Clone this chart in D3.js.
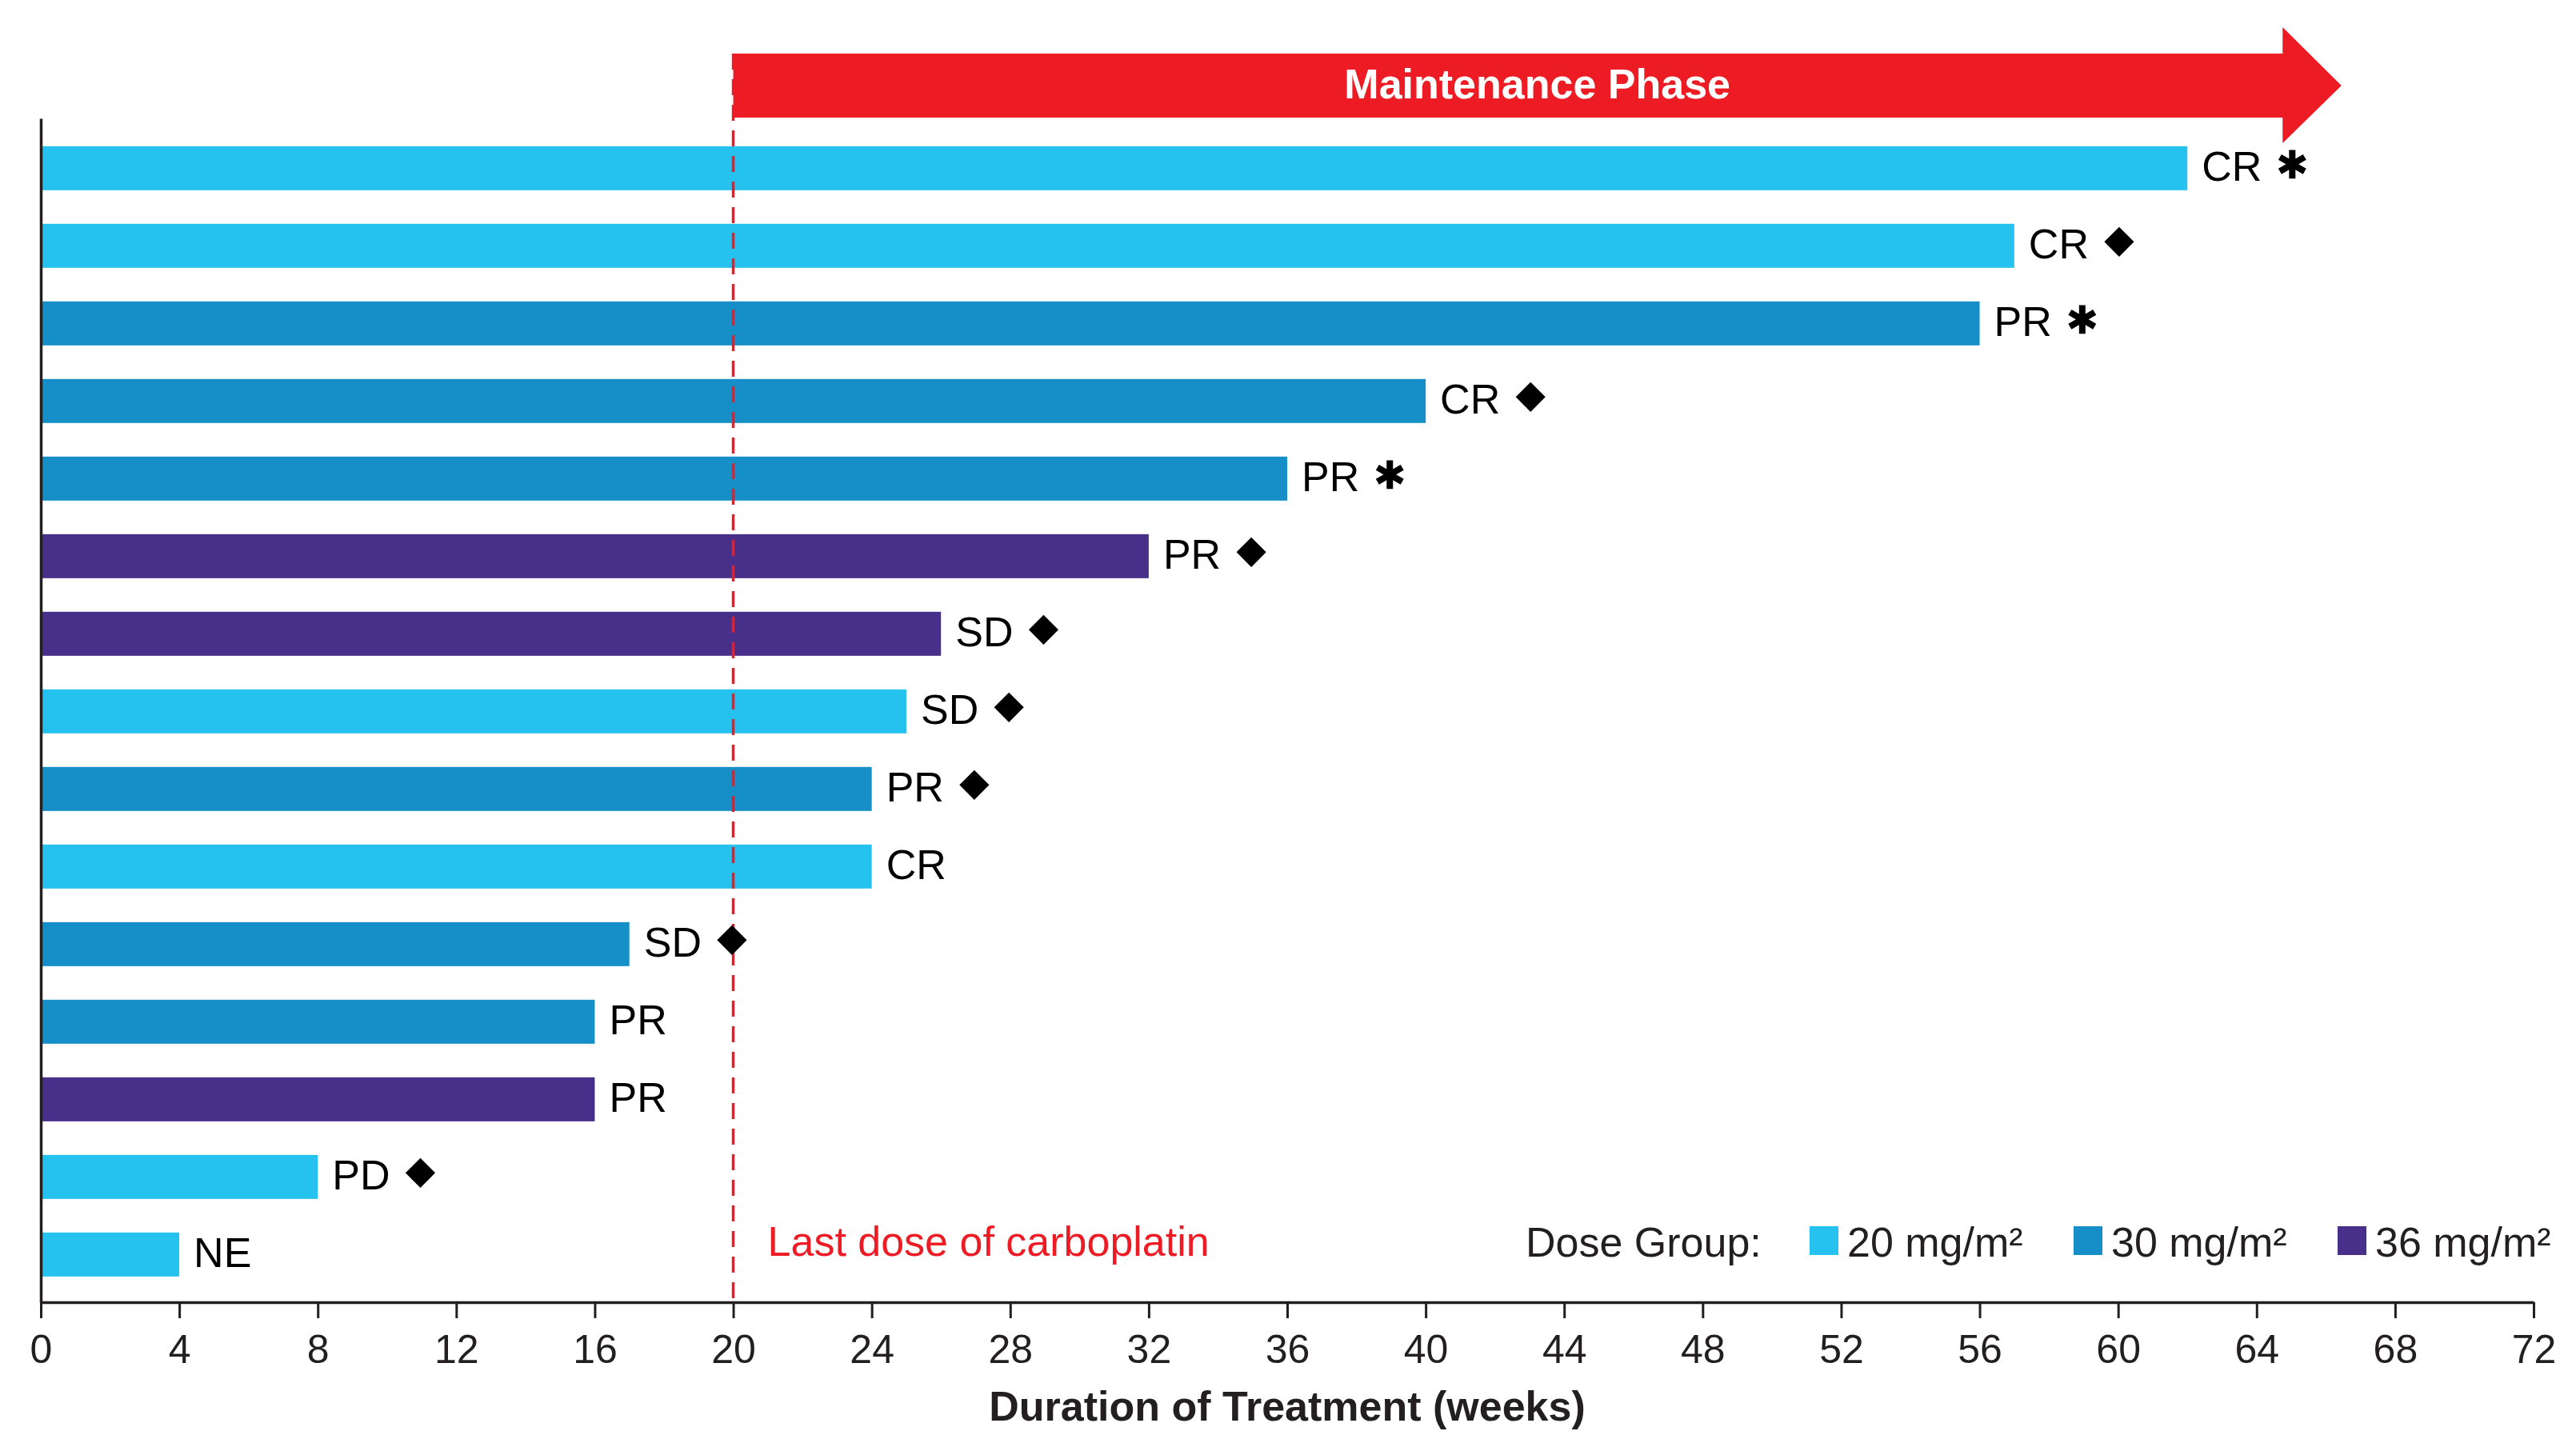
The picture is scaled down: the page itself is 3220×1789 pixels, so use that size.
<!DOCTYPE html>
<html>
<head>
<meta charset="utf-8">
<script src="https://cdn.jsdelivr.net/npm/d3@7"></script>
<style>
  html, body { margin: 0; padding: 0; background: #fff; }
  svg { display: block; font-family: "Liberation Sans", Arial, Helvetica, sans-serif; }
</style>
</head>
<body>
<div id="chart"></div>
<script>
/* ── Duration of treatment swimmer plot ─────────────── */
(function () {
  "use strict";

  // ── Data ──────────────────────────────────────────
  const patients  = ["1","2","3","4","5","6","7","8","9","10","11","12","13","14","15"];
  const weeks     = [62, 57, 56, 40, 36, 32, 26, 25, 24, 24, 17, 16, 16, 8, 4];
  const doses     = ["20","20","30","30","30","36","36","20","30","20","30","30","36","20","20"];
  const responses = ["CR","CR","PR","CR","PR","PR","SD","SD","PR","CR","SD","PR","PR","PD","NE"];
  const markers   = ["asterisk","diamond","asterisk","diamond","asterisk","diamond","diamond",
                     "diamond","diamond","","diamond","","","diamond",""];
  const doseKeys   = ["20", "30", "36"];
  const doseLabels = ["20 mg/m²", "30 mg/m²", "36 mg/m²"];
  const xTicks = [0, 4, 8, 12, 16, 20, 24, 28, 32, 36, 40, 44, 48, 52, 56, 60, 64, 68, 72];

  // Annotations (in weeks)
  const LAST_DOSE_WEEK = 20;
  const ARROW_START = 20, ARROW_HEAD = 64.75, ARROW_TIP = 66.45;

  // ── Config ────────────────────────────────────────
  const W = 3220, H = 1789;
  const X0 = 51, X1 = 3167;
  const Y0 = 148, Y1 = 1628;
  const RED = "#ED1C24";
  const INK = "#231F20";
  const FS = 52;

  const color = d3.scaleOrdinal().domain(doseKeys).range(["#25C2EF", "#168FC8", "#472F8A"]);

  const rows = patients.map((p, i) => ({
    id: p, value: weeks[i], dose: doses[i], resp: responses[i], mark: markers[i]
  }));

  const svg = d3.select("#chart").append("svg")
    .attr("width", W).attr("height", H)
    .attr("viewBox", `0 0 ${W} ${H}`);

  // ── Scales ────────────────────────────────────────
  const x = d3.scaleLinear().domain([0, 72]).range([X0, X1]);
  const y = d3.scaleBand().domain(patients).range([Y0, Y1])
    .paddingInner(0.433).paddingOuter(0.345).align(0.52);

  // ── Maintenance arrow ─────────────────────────────
  const bodyTop = 67, bodyBot = 147, headTop = 34, headBot = 179, tipY = 107;
  svg.append("path")
    .attr("fill", RED)
    .attr("d", d3.line()([
      [x(ARROW_START), bodyTop], [x(ARROW_HEAD), bodyTop], [x(ARROW_HEAD), headTop],
      [x(ARROW_TIP), tipY], [x(ARROW_HEAD), headBot], [x(ARROW_HEAD), bodyBot],
      [x(ARROW_START), bodyBot]
    ]) + "Z");

  svg.append("text")
    .attr("x", (x(ARROW_START) + x(ARROW_TIP)) / 2)
    .attr("y", 123)
    .attr("text-anchor", "middle")
    .attr("fill", "#fff")
    .attr("font-weight", "bold")
    .attr("font-size", FS)
    .text("Maintenance Phase");

  // ── Bars ──────────────────────────────────────────
  svg.append("g").selectAll("rect")
    .data(rows)
    .join("rect")
    .attr("x", x(0))
    .attr("y", d => y(d.id))
    .attr("width", d => x(d.value) - x(0))
    .attr("height", y.bandwidth())
    .attr("fill", d => color(d.dose));

  // ── Last dose line ────────────────────────────────
  svg.append("line")
    .attr("x1", x(LAST_DOSE_WEEK)).attr("x2", x(LAST_DOSE_WEEK))
    .attr("y1", bodyTop).attr("y2", Y1)
    .attr("stroke", RED)
    .attr("stroke-width", 3.5)
    .attr("stroke-dasharray", "20 12");

  svg.append("text")
    .attr("x", x(LAST_DOSE_WEEK) + 43)
    .attr("y", 1570)
    .attr("fill", RED)
    .attr("font-size", FS)
    .text("Last dose of carboplatin");

  // ── Response labels + markers ─────────────────────
  const lab = svg.append("g").selectAll("g")
    .data(rows)
    .join("g")
    .attr("transform", d => `translate(${x(d.value)},${y(d.id) + y.bandwidth() / 2})`);

  lab.append("text")
    .attr("x", 18)
    .attr("y", 16)
    .attr("font-size", FS)
    .attr("fill", "#000")
    .text(d => d.resp);

  const diamond = d3.symbol().type(d3.symbolSquare).size(690);
  const asterisk = d3.symbol().type(d3.symbolAsterisk).size(900);

  lab.each(function (d) {
    if (!d.mark) return;
    const g = d3.select(this);
    const tw = g.select("text").node().getComputedTextLength();
    const cx = 18 + tw + 38;
    if (d.mark === "diamond") {
      g.append("path")
        .attr("d", diamond())
        .attr("transform", `translate(${cx},-5) rotate(45)`)
        .attr("fill", "#000");
    } else {
      g.append("path")
        .attr("d", asterisk())
        .attr("transform", `translate(${cx},-5)`)
        .attr("fill", "none")
        .attr("stroke", "#000")
        .attr("stroke-width", 8);
    }
  });

  // ── Axes ──────────────────────────────────────────
  const gx = svg.append("g")
    .attr("transform", `translate(0,${Y1})`)
    .call(d3.axisBottom(x).tickValues(xTicks).tickSize(20).tickSizeOuter(0).tickPadding(20));
  gx.selectAll("text").attr("font-size", 50).attr("fill", INK).attr("font-family", null);
  gx.selectAll(".tick line").attr("stroke", INK).attr("stroke-width", 3);
  gx.select(".domain").attr("stroke", INK).attr("stroke-width", 3.5);

  const gy = svg.append("g")
    .attr("transform", `translate(${X0},0)`)
    .call(d3.axisLeft(y).tickSize(0).tickFormat(""));
  gy.select(".domain").attr("stroke", INK).attr("stroke-width", 3.5);

  svg.append("text")
    .attr("x", (X0 + X1) / 2)
    .attr("y", 1776)
    .attr("text-anchor", "middle")
    .attr("font-weight", "bold")
    .attr("font-size", FS)
    .attr("fill", INK)
    .text("Duration of Treatment (weeks)");

  // ── Legend ────────────────────────────────────────
  const legend = svg.append("g").attr("transform", "translate(1907,1571)");
  legend.append("text")
    .attr("font-size", FS).attr("fill", INK)
    .text("Dose Group:");

  const items = legend.selectAll("g.item")
    .data(doseKeys)
    .join("g")
    .attr("class", "item")
    .attr("transform", (d, i) => `translate(${355 + i * 330},0)`);

  items.append("rect")
    .attr("x", 0).attr("y", -38)
    .attr("width", 36).attr("height", 36)
    .attr("fill", d => color(d));

  items.append("text")
    .attr("x", 47)
    .attr("font-size", FS).attr("fill", INK)
    .text((d, i) => doseLabels[i]);
})();
</script>
</body>
</html>
